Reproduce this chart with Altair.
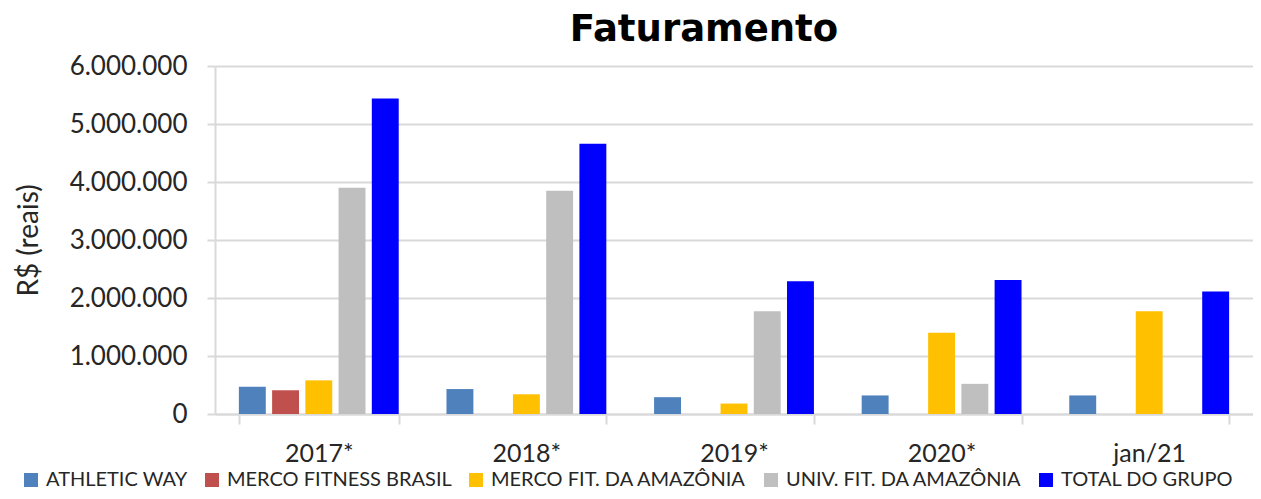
import altair as alt
import pandas as pd

categories = ["2017*", "2018*", "2019*", "2020*", "jan/21"]
series = ["ATHLETIC WAY", "MERCO FITNESS BRASIL", "MERCO FIT. DA AMAZÔNIA",
          "UNIV. FIT. DA AMAZÔNIA", "TOTAL DO GRUPO"]
colors = ["#4F81BD", "#C0504D", "#FFC000", "#BFBFBF", "#0000FF"]

athletic_way = [470000, 430000, 290000, 320000, 320000]
merco_fitness_brasil = [410000, None, None, None, None]
merco_fit_amazonia = [580000, 340000, 180000, 1400000, 1770000]
univ_fit_amazonia = [3900000, 3850000, 1770000, 520000, None]
total_grupo = [5440000, 4660000, 2290000, 2310000, 2110000]

values = [athletic_way, merco_fitness_brasil, merco_fit_amazonia,
          univ_fit_amazonia, total_grupo]

rows = []
for s, vals in zip(series, values):
    for c, v in zip(categories, vals):
        if v is not None:
            rows.append({"ano": c, "serie": s, "valor": v})
df = pd.DataFrame(rows)

FONT = "Lato"
GRID = "#D9D9D9"
TXT = "#262626"

chart = alt.Chart(df).mark_bar().encode(
    x=alt.X("ano:N", sort=categories,
            scale=alt.Scale(domain=categories, paddingInner=0.23, paddingOuter=0.115),
            axis=alt.Axis(title=None, labelAngle=0, labelFontSize=25, labelFont=FONT,
                          labelColor=TXT, labelPadding=17,
                          tickBand="extent", tickSize=10, tickColor=GRID, tickWidth=2,
                          domainColor=GRID, domainWidth=2, grid=False)),
    xOffset=alt.XOffset("serie:N", sort=series,
                        scale=alt.Scale(domain=series, paddingInner=0.19, paddingOuter=0)),
    y=alt.Y("valor:Q",
            scale=alt.Scale(domain=[0, 6000000], nice=False),
            axis=alt.Axis(title="R$ (reais)", titleFontSize=28, titleFont=FONT,
                          titleFontWeight="normal", titleColor=TXT, titlePadding=26,
                          values=[0, 1000000, 2000000, 3000000, 4000000, 5000000, 6000000],
                          format=",d", labelFontSize=26, labelFont=FONT, labelColor=TXT,
                          labelPadding=20,
                          gridColor=GRID, gridWidth=2, tickColor=GRID, tickWidth=2, tickSize=8,
                          domainColor=GRID, domainWidth=2)),
    color=alt.Color("serie:N", sort=series,
                    scale=alt.Scale(domain=series, range=colors),
                    legend=alt.Legend(title=None, orient="none", legendX=-194, legendY=404,
                                      direction="horizontal",
                                      symbolType="square", symbolSize=196, symbolStrokeWidth=0,
                                      labelFontSize=20, labelFont=FONT, labelColor=TXT,
                                      labelLimit=0, columnPadding=14, labelOffset=5)),
).properties(
    width=1038,
    height=348,
    padding={"left": 207, "right": 0, "top": 58, "bottom": 77},
    autosize=alt.AutoSizeParams(type="none"),
    title=alt.TitleParams("Faturamento", fontSize=37, font="DejaVu Sans", fontWeight="bold",
                          color="#000000", anchor="middle", dx=-30, offset=4),
).configure(
    locale={"number": {"decimal": ",", "thousands": ".", "grouping": [3],
                       "currency": ["R$", ""]}}
).configure_view(stroke=None)

chart.save("out.html", embed_options={"renderer": "svg", "actions": False})
